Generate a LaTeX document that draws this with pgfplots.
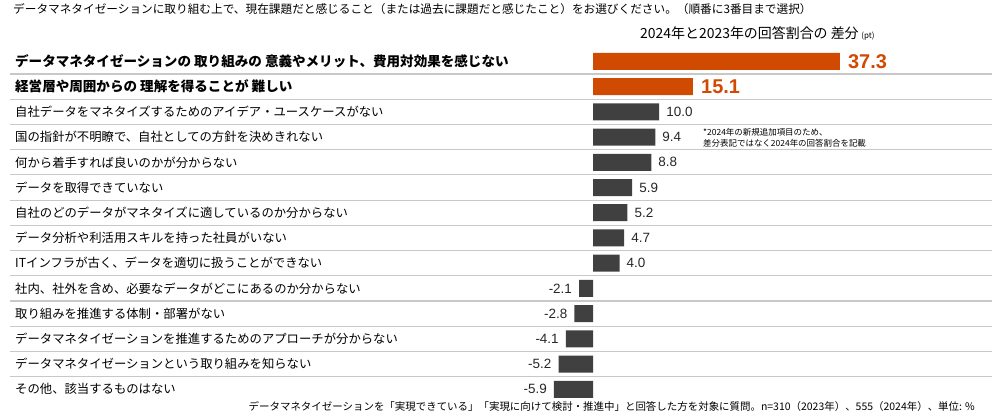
\documentclass[border=0pt]{standalone}
\usepackage{fontspec}
\setmainfont{Liberation Sans}
\newfontfamily\jp{Noto Sans CJK JP}
\usepackage{pgfplots}
\pgfplotsset{compat=1.18}
\usepackage{pgfplotstable}
\definecolor{pwcorange}{HTML}{D04A02}
\definecolor{bargray}{HTML}{404040}
\definecolor{gridgray}{HTML}{C8C8C8}

\pgfplotstableread{
y v
1 37.3
2 15.1
}\toptable
\pgfplotstableread{
y v
3 10.0
4 9.4
5 8.8
6 5.9
7 5.2
8 4.7
9 4.0
10 -2.1
11 -2.8
12 -4.1
13 -5.2
14 -5.9
}\resttable

\begin{document}
\begin{tikzpicture}[x=1bp,y=1bp]
\useasboundingbox (0,0) rectangle (1002,417);
\begin{axis}[
  at={(10bp,15.1bp)}, anchor=south west,
  scale only axis, width=982bp, height=353.1bp,
  xmin=-88.07, xmax=60.27, ymin=0.5, ymax=14.5, y dir=reverse,
  xbar, bar width=17bp, bar shift=0pt,
  axis line style={draw=none},
  xtick=\empty,
  ytick={1,2,3,4,5,6,7,8,9,10,11,12,13,14},
  yticklabels={
    {\bfseries\fontsize{13.6}{15}\selectfont データマネタイゼーションの 取り組みの 意義やメリット、費用対効果を感じない},
    {\bfseries\fontsize{13.6}{15}\selectfont 経営層や周囲からの 理解を得ることが 難しい},
    {自社データをマネタイズするためのアイデア・ユースケースがない},
    {国の指針が不明瞭で、自社としての方針を決めきれない},
    {何から着手すれば良いのかが分からない},
    {データを取得できていない},
    {自社のどのデータがマネタイズに適しているのか分からない},
    {データ分析や利活用スキルを持った社員がいない},
    {ITインフラが古く、データを適切に扱うことができない},
    {社内、社外を含め、必要なデータがどこにあるのか分からない},
    {取り組みを推進する体制・部署がない},
    {データマネタイゼーションを推進するためのアプローチが分からない},
    {データマネタイゼーションという取り組みを知らない},
    {その他、該当するものはない}},
  minor ytick={1.5,2.5,3.5,4.5,5.5,6.5,7.5,8.5,9.5,10.5,11.5,12.5,13.5},
  yminorgrids, minor grid style={gridgray, line width=1.1bp},
  major tick length=0pt, minor tick length=0pt,
  yticklabel style={anchor=west, inner sep=0pt, xshift=5bp, font=\jp\fontsize{12.4}{14}\selectfont},
  point meta=x,
  nodes near coords={\pgfmathprintnumber[fixed,zerofill,precision=1,assume math mode=true]{\pgfplotspointmeta}},
  clip=false,
]
\addplot[fill=pwcorange, draw=none,
  every node near coord/.append style={font=\bfseries\fontsize{20}{20}\selectfont, text=pwcorange, inner xsep=8bp, inner ysep=0pt}]
  table[x=v,y=y]{\toptable};
\addplot[fill=bargray, draw=none,
  every node near coord/.append style={font=\fontsize{13.5}{13.5}\selectfont, text=black!85, inner xsep=7bp, inner ysep=0pt}]
  table[x=v,y=y]{\resttable};
\end{axis}
\node[anchor=west, inner sep=0pt, font=\jp\fontsize{11.7}{14}\selectfont] at (13, 408)
  {データマネタイゼーションに取り組む上で、現在課題だと感じること（または過去に課題だと感じたこと）をお選びください。（順番に3番目まで選択）};
\node[anchor=west, inner sep=0pt] at (640, 384)
  {{\jp\fontsize{14}{16}\selectfont 2024年と2023年の回答割合の 差分} {\jp\fontsize{8}{9}\selectfont (pt)}};
\node[anchor=west, inner sep=0pt, align=left, font=\jp\fontsize{8.5}{10.5}\selectfont] at (703, 279)
  {*2024年の新規追加項目のため、\\差分表記ではなく2024年の回答割合を記載};
\node[anchor=east, inner sep=0pt, font=\jp\fontsize{10.5}{13}\selectfont] at (975, 10)
  {データマネタイゼーションを「実現できている」「実現に向けて検討・推進中」と回答した方を対象に質問。n=310（2023年）、555（2024年）、単位: \%};
\end{tikzpicture}
\end{document}
